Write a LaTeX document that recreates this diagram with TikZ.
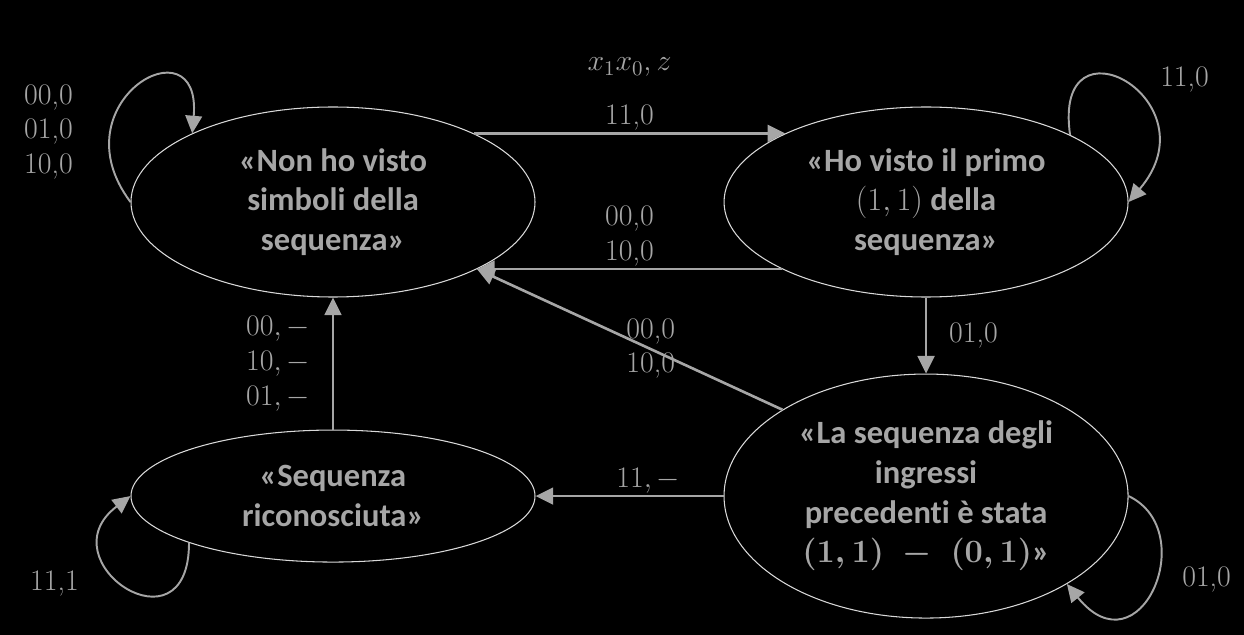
\RequirePackage{fix-cm}
\documentclass[tikz,border=0pt]{standalone}
\usepackage{fontspec}
\newfontfamily\carlito[Ligatures=NoCommon]{Carlito}
\usetikzlibrary{shapes,arrows.meta,positioning,calc}
\definecolor{fgrey}{HTML}{A6A6A6}
\definecolor{lgrey}{HTML}{D9D9D9}

\begin{document}
\begin{tikzpicture}[
    node distance=3.76cm,
    state/.style={ellipse, draw=lgrey, line width=0.6pt, inner sep=0pt, minimum width=8.08cm, minimum height=3.8cm, align=center, text=fgrey, font=\carlito\bfseries\fontsize{18.5}{22.6}\selectfont},
    lbl/.style={text=fgrey, font=\fontsize{17}{19.8}\selectfont, align=center, inner sep=1pt},
    arrow/.style={-{Triangle[length=10pt,width=9.5pt]}, draw=fgrey, line width=1.5pt},
    selfloop/.style={arrow, line width=1.1pt}
]

    % Background
    \useasboundingbox (-6.66,-8.66) rectangle (18.22,4.04);
    \fill[black] (-6.66,-8.66) rectangle (18.22,4.04);

    % States
    \node[state] (idle) {«Non ho visto\\simboli della\\sequenza»};
    \node[state, right=of idle] (first) {«Ho visto il primo\\$(1,1)$ della\\sequenza»};
    \node[state, below=1.52cm of first, minimum height=4.88cm] (seen) {«La sequenza degli\\ingressi\\precedenti è stata\\{\boldmath$(1,1)\;-\;(0,1)$}»};
    \node[state, left=of seen, minimum height=2.64cm] (found) {«Sequenza\\riconosciuta»};

    % Legend
    \node[lbl] (inout) at ($(idle.north)!0.5!(first.north)+(0,0.78)$) {$x_1x_0, z$};

    % Transitions
    \draw[arrow] (idle.26) -- node[lbl, above] (t11a) {11,0} (first.154);
    \draw[arrow] (first.205) -- node[lbl, above] (t00a) {00,0\\10,0} (idle.335);
    \draw[arrow] (seen.149) -- node[lbl, xshift=0.42cm, yshift=-0.18cm] (t00b) {00,0\\10,0} (idle.335);
    \draw[arrow] (first) -- node[lbl, right=0.4cm] (t01a) {01,0} (seen);
    \draw[arrow] (seen) -- node[lbl, above, pos=0.4] (t11b) {$11,-$} (found);
    \draw[arrow] (found) -- node[lbl, left=0.4cm] (t00c) {$00,-$\\$10,-$\\$01,-$} (idle);

    % Self loops
    \draw[selfloop] (idle.west) .. controls +(-1.5,2.0) and +(0.2,2.3) .. (idle.154);
    \draw[selfloop] (first.25) .. controls +(-0.36,2.5) and +(1.74,2.04) .. (first.east);
    \draw[selfloop] (seen.east) .. controls +(1.46,-0.7) and +(1.46,-1.8) .. (seen.328);
    \draw[selfloop] (found.198) .. controls +(0,-2.3) and +(-1.72,-1.3) .. (found.west);

    \node[lbl] (idleloop) at ([shift={(-1.64,1.4)}]idle.west) {00,0\\01,0\\10,0};
    \node[lbl] (firstloop) at ([shift={(1.12,2.44)}]first.east) {11,0};
    \node[lbl] (seenloop) at ([shift={(1.56,-1.66)}]seen.east) {01,0};
    \node[lbl] (foundloop) at ([shift={(-1.52,-1.74)}]found.west) {11,1};

\end{tikzpicture}
\end{document}
